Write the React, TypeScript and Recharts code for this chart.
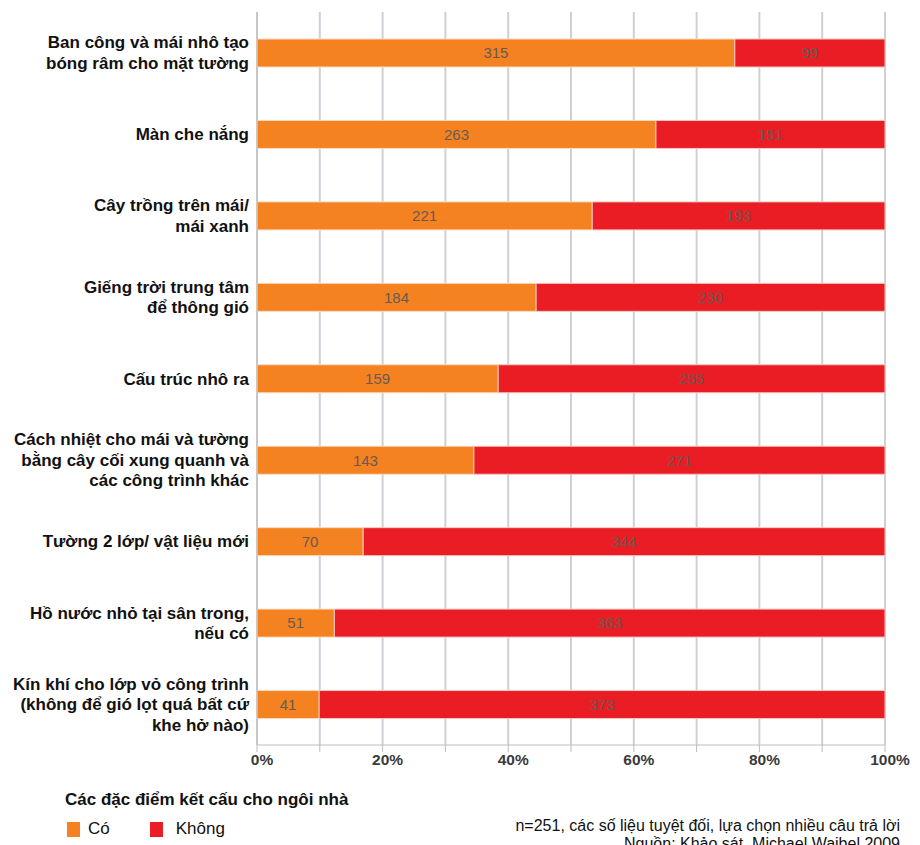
import { BarChart, Bar, XAxis, YAxis, CartesianGrid, LabelList } from "recharts";

const categories = [
  "Ban công và mái nhô tạo\nbóng râm cho mặt tường",
  "Màn che nắng",
  "Cây trồng trên mái/\nmái xanh",
  "Giếng trời trung tâm\nđể thông gió",
  "Cấu trúc nhô ra",
  "Cách nhiệt cho mái và tường\nbằng cây cối xung quanh và\ncác công trình khác",
  "Tường 2 lớp/ vật liệu mới",
  "Hồ nước nhỏ tại sân trong,\nnếu có",
  "Kín khí cho lớp vỏ công trình\n(không để gió lọt quá bất cứ\nkhe hở nào)",
];
const coValues = [315, 263, 221, 184, 159, 143, 70, 51, 41];
const khongValues = [99, 151, 193, 230, 255, 271, 344, 363, 373];
const xTicks = [0, 0.1, 0.2, 0.3, 0.4, 0.5, 0.6, 0.7, 0.8, 0.9, 1];

const ORANGE = "#f48220";
const RED = "#ea1c24";
const FONT = "'Liberation Sans', Arial, sans-serif";

const data = categories.map((name, i) => ({
  name,
  co: coValues[i],
  khong: khongValues[i],
}));

const CategoryTick = (props: any) => {
  const { x, y, payload } = props;
  const lines = String(payload.value).split("\n");
  const lineH = 20.5;
  const startY = y - ((lines.length - 1) * lineH) / 2;
  return (
    <text
      x={x}
      y={startY}
      textAnchor="end"
      dominantBaseline="central"
      fontFamily={FONT}
      fontWeight="bold"
      fontSize={17}
      fill="#111"
    >
      {lines.map((l, i) => (
        <tspan key={i} x={x} y={startY + i * lineH}>
          {l}
        </tspan>
      ))}
    </text>
  );
};

const PercentTick = (props: any) => {
  const { x, y, payload } = props;
  const v = Math.round(payload.value * 100);
  if (v % 20 !== 0) return null;
  return (
    <text
      x={x + 5}
      y={y + 11}
      textAnchor="middle"
      fontFamily={FONT}
      fontWeight="bold"
      fontSize={15.5}
      fill="#3a3a3a"
    >
      {v}%
    </text>
  );
};

const labelStyle = { fontFamily: FONT, fontSize: 15, fill: "#6a5a52" };

export default function App() {
  return (
    <div style={{ position: "relative", width: 904, height: 837, overflow: "hidden" }}>
      <BarChart
        width={904}
        height={770}
        data={data}
        layout="vertical"
        stackOffset="expand"
        margin={{ top: 4, right: 27, left: 0, bottom: 0 }}
      >
        <CartesianGrid horizontal={false} stroke="#cfcfd6" strokeWidth={2} />
        <XAxis
          type="number"
          domain={[0, 1]}
          ticks={xTicks}
          tick={<PercentTick />}
          stroke="#bdbdbd"
          tickSize={7}
          height={33}
          interval={0}
        />
        <YAxis
          type="category"
          dataKey="name"
          width={249}
          tick={<CategoryTick />}
          tickLine={false}
          stroke="#bdbdbd"
          interval={0}
        />
        <Bar dataKey="co" stackId="a" fill={ORANGE} stroke="#fbd9c0" strokeWidth={1} barSize={28} isAnimationActive={false}>
          <LabelList dataKey="co" position="center" style={labelStyle} />
        </Bar>
        <Bar dataKey="khong" stackId="a" fill={RED} stroke="#f6c6c0" strokeWidth={1} barSize={28} isAnimationActive={false}>
          <LabelList dataKey="khong" position="center" style={labelStyle} />
        </Bar>
      </BarChart>
      <div
        style={{
          position: "absolute",
          left: 57,
          top: 782,
          fontFamily: FONT,
          fontWeight: "bold",
          fontSize: 17,
          color: "#111",
        }}
      >
        Các đặc điểm kết cấu cho ngôi nhà
      </div>
      <div
        style={{
          position: "absolute",
          left: 59,
          top: 811,
          display: "flex",
          alignItems: "center",
          fontFamily: FONT,
          fontSize: 17,
          color: "#111",
        }}
      >
        <span style={{ width: 13, height: 15, background: ORANGE, display: "inline-block", marginRight: 8 }} />
        <span style={{ marginRight: 40 }}>Có</span>
        <span style={{ width: 13, height: 15, background: RED, display: "inline-block", marginRight: 13 }} />
        <span>Không</span>
      </div>
      <div
        style={{
          position: "absolute",
          right: 12,
          top: 809,
          textAlign: "right",
          fontFamily: FONT,
          fontSize: 16,
          lineHeight: "18px",
          color: "#111",
        }}
      >
        n=251, các số liệu tuyệt đối, lựa chọn nhiều câu trả lời
        <br />
        Nguồn: Khảo sát, Michael Waibel 2009
      </div>
    </div>
  );
}
